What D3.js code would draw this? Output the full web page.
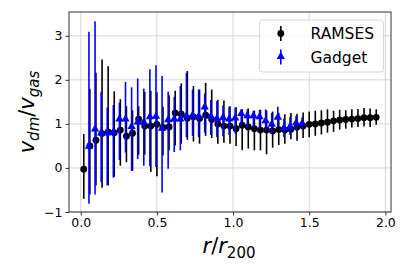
<!DOCTYPE html>
<html>
<head>
<meta charset="utf-8">
<script src="https://cdn.jsdelivr.net/npm/d3@7"></script>
<style>
  body { margin: 0; background: #fff; }
  svg text { font-family: "DejaVu Sans", sans-serif; }
</style>
</head>
<body>
<svg id="chart" width="407" height="271"></svg>
<script>
// RAMSES (black circles)
var ramsesR = [0.02, 0.06, 0.10, 0.14, 0.18, 0.22, 0.26, 0.30, 0.34, 0.38,
  0.42, 0.46, 0.50, 0.54, 0.58, 0.62, 0.66, 0.70, 0.74, 0.78,
  0.82, 0.86, 0.90, 0.94, 0.98, 1.02, 1.06, 1.10, 1.14, 1.18,
  1.22, 1.26, 1.30, 1.34, 1.38, 1.42, 1.46, 1.50, 1.54, 1.58,
  1.62, 1.66, 1.70, 1.74, 1.78, 1.82, 1.86, 1.90, 1.94];
var ramsesV = [-0.03, 0.50, 0.63, 0.78, 0.82, 0.80, 0.86, 0.72, 0.79, 1.11,
  0.95, 0.95, 0.99, 0.92, 0.93, 1.25, 1.22, 1.13, 1.16, 1.12,
  1.20, 1.10, 1.00, 0.95, 0.95, 0.89, 0.97, 0.93, 0.89, 0.86,
  0.86, 0.84, 0.87, 0.86, 0.88, 0.93, 0.95, 0.99, 1.00, 1.02,
  1.04, 1.07, 1.09, 1.10, 1.11, 1.12, 1.14, 1.14, 1.15];
var ramsesLo = [-0.70, -0.60, -0.40, -0.45, -0.40, -0.20, 0.05, 0.13, -0.06, 0.30,
  0.30, -0.09, -0.19, 0.28, 0.40, 0.51, 0.55, 0.64, 0.60, 0.55,
  0.73, 0.68, 0.55, 0.57, 0.55, 0.50, 0.40, 0.44, 0.40, 0.40,
  0.31, 0.46, 0.52, 0.55, 0.65, 0.62, 0.68, 0.70, 0.73, 0.76,
  0.80, 0.82, 0.87, 0.89, 0.92, 0.93, 0.94, 0.93, 0.98];
var ramsesHi = [0.77, 1.80, 2.16, 2.46, 2.31, 1.74, 1.56, 1.40, 1.31, 1.40,
  1.73, 1.75, 1.72, 1.39, 1.65, 1.75, 1.92, 2.20, 1.86, 1.78,
  1.93, 1.78, 1.55, 1.53, 1.40, 1.38, 1.33, 1.35, 1.30, 1.32,
  1.30, 1.28, 1.25, 1.22, 1.25, 1.23, 1.26, 1.28, 1.30, 1.31,
  1.33, 1.30, 1.32, 1.31, 1.33, 1.34, 1.36, 1.35, 1.33];

// Gadget (blue triangles)
var gadgetR = [0.054, 0.094, 0.134, 0.174, 0.214, 0.254, 0.294, 0.334, 0.374, 0.414,
  0.454, 0.494, 0.534, 0.574, 0.614, 0.654, 0.694, 0.734, 0.774, 0.814,
  0.854, 0.894, 0.934, 0.974, 1.014, 1.054, 1.094, 1.134, 1.174, 1.214,
  1.254, 1.294, 1.334, 1.374, 1.414, 1.454];
var gadgetV = [0.48, 0.87, 0.78, 0.78, 0.80, 1.10, 1.10, 0.93, 1.03, 1.03,
  1.15, 1.16, 0.89, 1.08, 1.10, 1.10, 1.17, 1.18, 1.16, 1.37,
  1.16, 1.11, 1.13, 1.10, 1.12, 1.22, 1.17, 1.17, 1.15, 1.06,
  0.98, 1.14, 0.90, 0.93, 1.01, 1.00];
var gadgetLo = [-0.81, -0.60, -0.32, -0.39, -0.22, 0.18, 0.35, -0.07, 0.20, 0.05,
  0.04, 0.02, -0.56, -0.02, 0.36, 0.40, 0.70, 0.73, 0.70, 0.80,
  0.75, 0.70, 0.72, 0.75, 0.78, 0.95, 0.90, 0.92, 0.90, 0.85,
  0.78, 0.92, 0.70, 0.75, 0.85, 0.88];
var gadgetHi = [3.09, 3.33, 1.73, 1.37, 1.43, 1.48, 1.95, 1.83, 2.03, 1.80,
  2.24, 2.33, 2.09, 1.73, 1.61, 1.86, 2.16, 1.78, 1.78, 1.69,
  1.54, 1.52, 1.42, 1.39, 1.37, 1.33, 1.33, 1.30, 1.32, 1.33,
  1.25, 1.39, 1.12, 1.15, 1.18, 1.15];

var xTicks = [0.0, 0.5, 1.0, 1.5, 2.0];
var yTicks = [-1, 0, 1, 2, 3];

var margin = { top: 12, right: 16, bottom: 59, left: 69 };
var width = 407 - margin.left - margin.right,
    height = 271 - margin.top - margin.bottom;

var svg = d3.select('#chart');
var g = svg.append('g')
    .attr('transform', 'translate(' + margin.left + ',' + margin.top + ')');

var x = d3.scaleLinear().domain([-0.077, 2.037]).range([0, width]);
var y = d3.scaleLinear().domain([-1, 3.54]).range([height, 0]);

// grid
g.append('g').selectAll('line')
    .data(xTicks).enter().append('line')
    .attr('x1', d => x(d)).attr('x2', d => x(d))
    .attr('y1', 0).attr('y2', height)
    .attr('stroke', '#d3d3d3').attr('stroke-width', 0.9);
g.append('g').selectAll('line')
    .data(yTicks).enter().append('line')
    .attr('x1', 0).attr('x2', width)
    .attr('y1', d => y(d)).attr('y2', d => y(d))
    .attr('stroke', '#d3d3d3').attr('stroke-width', 0.9);

function plotSeries(rs, vs, lo, hi, color, marker) {
    var pts = rs.map((r, i) => ({ r: r, v: vs[i], lo: lo[i], hi: hi[i] }));
    var s = g.append('g');
    s.selectAll('line')
        .data(pts).enter().append('line')
        .attr('x1', d => x(d.r)).attr('x2', d => x(d.r))
        .attr('y1', d => y(d.lo)).attr('y2', d => y(d.hi))
        .attr('stroke', color).attr('stroke-width', 1.6);
    if (marker === 'circle') {
        s.selectAll('circle')
            .data(pts).enter().append('circle')
            .attr('cx', d => x(d.r)).attr('cy', d => y(d.v))
            .attr('r', 3.4).attr('fill', color);
    } else {
        var tri = d3.symbol().type(d3.symbolTriangle).size(30);
        s.selectAll('path')
            .data(pts).enter().append('path')
            .attr('d', tri)
            .attr('transform', d => 'translate(' + x(d.r) + ',' + (y(d.v) - 0.5) + ')')
            .attr('fill', color);
    }
}

plotSeries(ramsesR, ramsesV, ramsesLo, ramsesHi, '#000000', 'circle');
plotSeries(gadgetR, gadgetV, gadgetLo, gadgetHi, '#0000ff', 'triangle');

// axes
var xAxis = g.append('g')
    .attr('transform', 'translate(0,' + height + ')')
    .call(d3.axisBottom(x).tickValues(xTicks).tickFormat(d3.format('.1f')).tickSizeOuter(0).tickSize(3.5).tickPadding(3));
var yAxis = g.append('g')
    .call(d3.axisLeft(y).tickValues(yTicks).tickFormat(d => d < 0 ? '\u2212' + Math.abs(d) : d).tickSizeOuter(0).tickSize(3.5).tickPadding(3));
[xAxis, yAxis].forEach(a => {
    a.select('.domain').remove();
    a.selectAll('text').attr('font-size', 12.5).attr('fill', '#000')
        .style('font-family', '"DejaVu Sans", sans-serif');
    a.selectAll('line').attr('stroke', '#333');
});

// frame
g.append('rect')
    .attr('width', width).attr('height', height)
    .attr('fill', 'none').attr('stroke', '#333').attr('stroke-width', 1);

// legend
var leg = g.append('g').attr('transform', 'translate(' + (259.5 - margin.left) + ',' + (20 - margin.top) + ')');
leg.append('rect')
    .attr('width', 124).attr('height', 52).attr('rx', 3)
    .attr('fill', 'rgba(255,255,255,0.8)').attr('stroke', '#d6d6d6').attr('stroke-width', 1);
var legItems = [
    { name: 'RAMSES', color: '#000000', marker: 'circle', y: 13.5 },
    { name: 'Gadget', color: '#0000ff', marker: 'triangle', y: 37 }
];
legItems.forEach(it => {
    leg.append('line')
        .attr('x1', 21.3).attr('x2', 21.3)
        .attr('y1', it.y - 7.5).attr('y2', it.y + 7.5)
        .attr('stroke', it.color).attr('stroke-width', 1.6);
    if (it.marker === 'circle') {
        leg.append('circle').attr('cx', 21.3).attr('cy', it.y).attr('r', 3.4).attr('fill', it.color);
    } else {
        leg.append('path').attr('d', d3.symbol().type(d3.symbolTriangle).size(30))
            .attr('transform', 'translate(21.3,' + (it.y - 0.5) + ')').attr('fill', it.color);
    }
    leg.append('text')
        .attr('x', 51).attr('y', it.y).attr('dy', '0.36em')
        .attr('font-size', 15.5).attr('fill', '#000')
        .text(it.name);
});

// axis labels
var xl = svg.append('text')
    .attr('x', 229).attr('y', 253)
    .attr('text-anchor', 'middle')
    .attr('font-size', 21);
xl.append('tspan').attr('font-style', 'italic').text('r');
xl.append('tspan').text('/');
xl.append('tspan').attr('font-style', 'italic').text('r');
xl.append('tspan').attr('font-size', 15).attr('dy', 5).text('200');

var yl = svg.append('text')
    .attr('transform', 'translate(34,112) rotate(-90)')
    .attr('text-anchor', 'middle')
    .attr('font-size', 21);
yl.append('tspan').attr('font-style', 'italic').text('v');
yl.append('tspan').attr('font-style', 'italic').attr('font-size', 15).attr('dy', 5).text('dm');
yl.append('tspan').attr('dy', -5).text('/');
yl.append('tspan').attr('font-style', 'italic').text('v');
yl.append('tspan').attr('font-style', 'italic').attr('font-size', 15).attr('dy', 5).text('gas');
</script>
</body>
</html>
